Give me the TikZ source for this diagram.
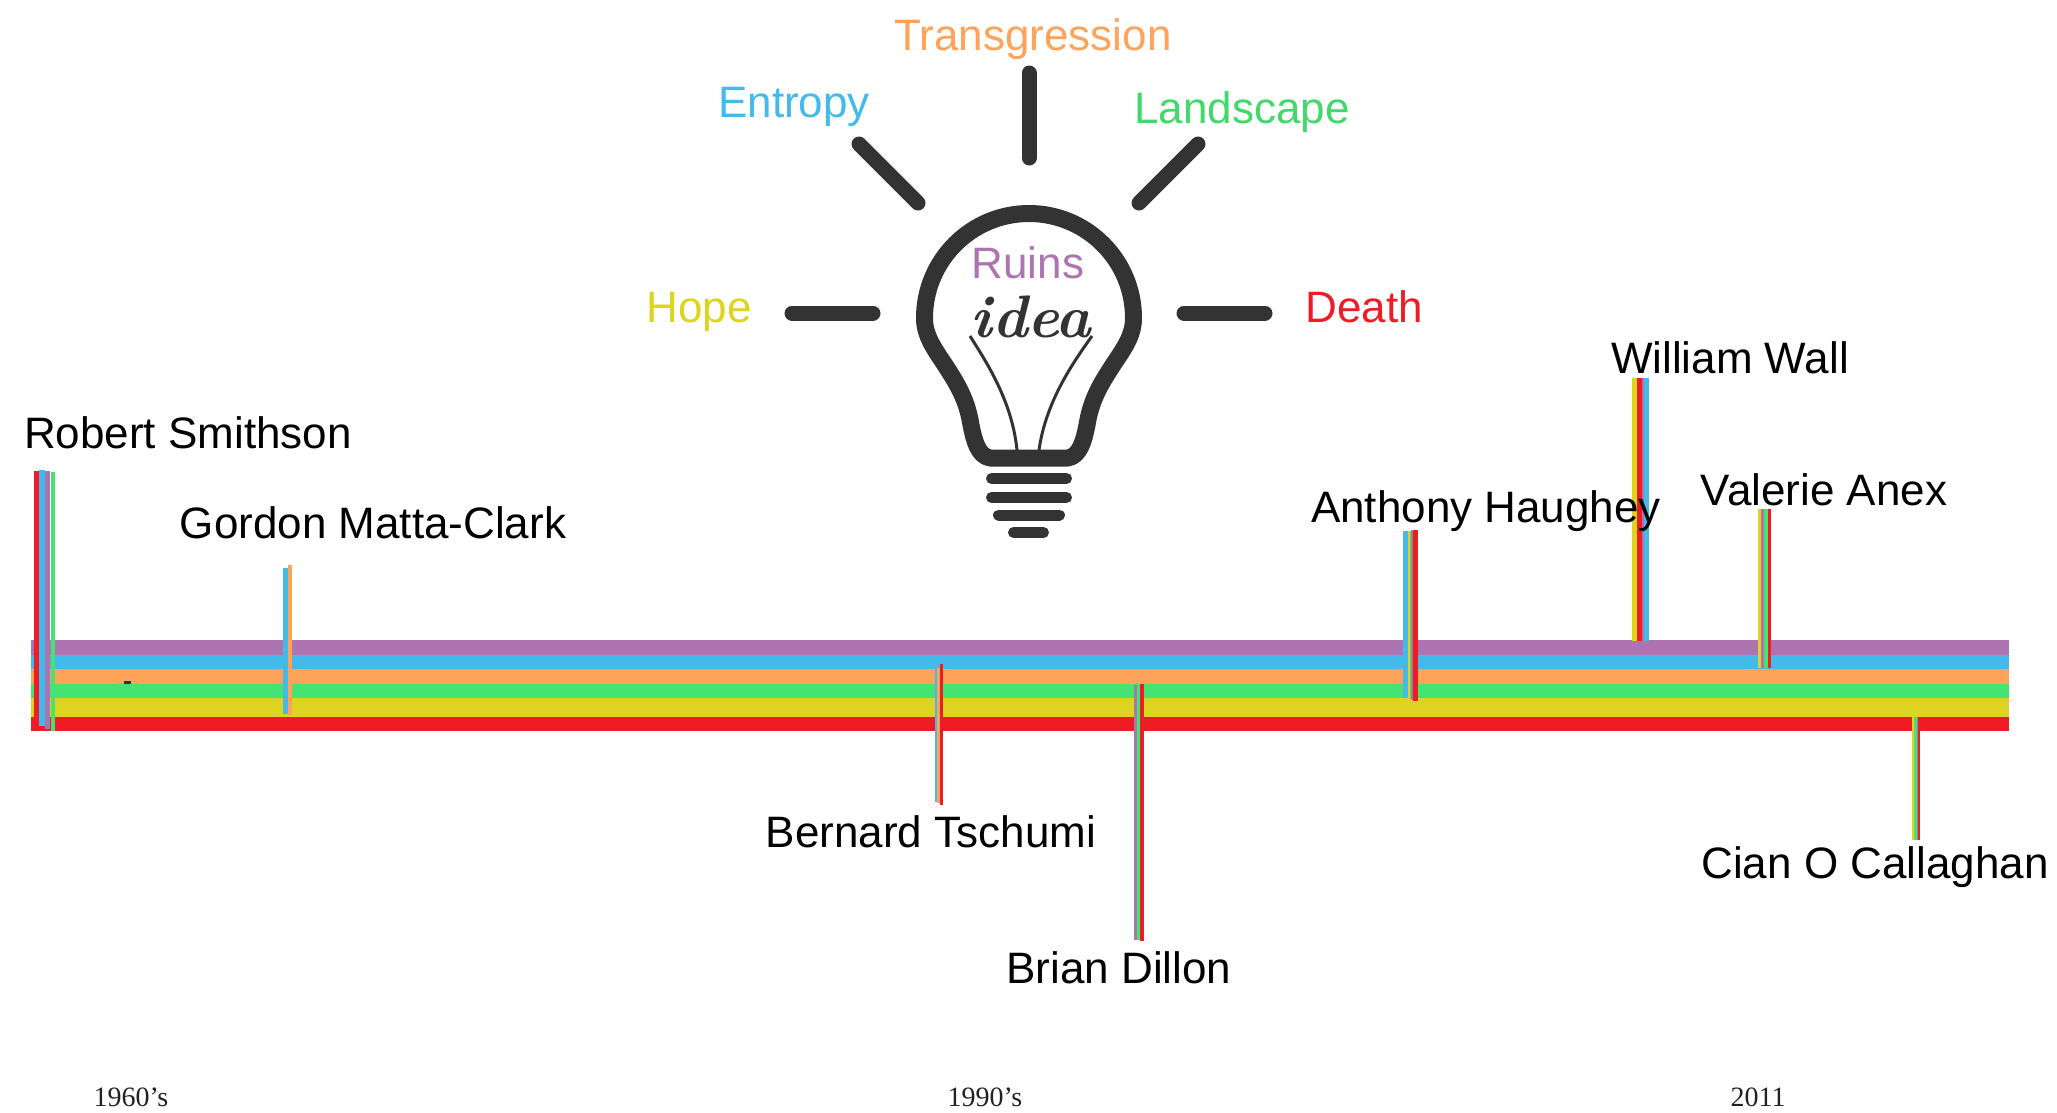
\documentclass[tikz,border=0pt]{standalone}
\usepackage{fontspec}
\setmainfont{Liberation Sans}
\newfontfamily\yearfont{Liberation Serif}
\newfontfamily\ideafont{Latin Modern Roman}

\definecolor{cpurple}{HTML}{AD74B0}
\definecolor{cblue}{HTML}{43BAEA}
\definecolor{corange}{HTML}{FFA35A}
\definecolor{cgreen}{HTML}{45E371}
\definecolor{cyellow}{HTML}{DDD421}
\definecolor{cred}{HTML}{EE1C25}
\definecolor{bulbgray}{HTML}{333333}
\definecolor{yeargray}{HTML}{222222}

% one coloured strip of a marker: colour, x from, x to, y from, y to
\newcommand{\tlstripe}[5]{\fill[#1] (#2,#4) rectangle (#3,#5);}

\begin{document}
\begin{tikzpicture}[x=1pt,y=-1pt,
  word/.style={anchor=base, inner sep=0pt, font=\fontsize{44}{50}\selectfont},
  person/.style={word, text=black},
  yearlabel/.style={anchor=base, inner sep=0pt, text=yeargray, font=\yearfont\fontsize{28}{32}\selectfont},
  ray/.style={draw=bulbgray, line width=15pt, line cap=round},
  basebar/.style={draw=bulbgray, line width=11pt, line cap=round},
  filament/.style={draw=bulbgray, line width=3pt}]

\useasboundingbox (0,0) rectangle (2057,1112);
\fill[white] (0,0) rectangle (2057,1112);

% ---------- light bulb ----------
\draw[bulbgray, line width=17pt, line join=round]
  (990,458) -- (1068,458)
  .. controls (1080,456) and (1084,440) .. (1087,425)
  .. controls (1091,400) and (1100,385) .. (1113,365)
  .. controls (1125,347) and (1133.5,335) .. (1133.5,318)
  .. controls (1133.5,260.3) and (1086.7,213.5) .. (1029,213.5)
  .. controls (971.3,213.5) and (924.5,260.3) .. (924.5,318)
  .. controls (924.5,335) and (933,347) .. (945,365)
  .. controls (958,385) and (967,400) .. (971,425)
  .. controls (974,440) and (978,456) .. (990,458) -- cycle;

\node[anchor=base, inner sep=0pt, text=bulbgray, font=\ideafont\bfseries\itshape\fontsize{60}{60}\selectfont]
  (idea) at (1031,337) {idea};
\coordinate (filL) at (970,336);
\coordinate (filR) at (1092,336);
\coordinate (baseL) at (1017,450);
\coordinate (baseR) at (1039,450);
\draw[filament] (filL) .. controls (985,360) and (1012,400) .. (baseL);
\draw[filament] (filR) .. controls (1075,360) and (1046,400) .. (baseR);

\draw[basebar] (991.5,478.5) -- (1066.5,478.5);
\draw[basebar] (991.5,497.5) -- (1066.5,497.5);
\draw[basebar] (998.5,515) -- (1059.5,515);
\draw[basebar] (1013.5,532.5) -- (1043.5,532.5);

% rays
\draw[ray] (1029,73) -- (1029,158);
\draw[ray] (859,144) -- (918,203);
\draw[ray] (1198,144) -- (1139,203);
\draw[ray] (792,313) -- (873,313);
\draw[ray] (1184,313) -- (1265,313);

% theme words
\node[word, text=corange] (transgression) at (1033,50) {Transgression};
\node[word, text=cblue] (entropy) at (794,117) {Entropy};
\node[word, text=cgreen!95!black] (landscape) at (1242,123) {Landscape};
\node[word, text=cyellow] (hope) at (699,322) {Hope};
\node[word, text=cred] (death) at (1364,322) {Death};
\node[word, text=cpurple] (ruins) at (1028,278) {Ruins};

% ---------- timeline bands ----------
\fill[cpurple] (31,640) rectangle (2009,655);
\fill[cblue]   (31,655) rectangle (2009,669);
\fill[corange] (31,669) rectangle (2009,684);
\fill[cgreen]  (31,684) rectangle (2009,698);
\fill[cyellow] (31,698) rectangle (2009,717);
\fill[cred]    (31,717) rectangle (2009,731);
\fill[bulbgray] (124,681) rectangle (131,684);

% ---------- markers ----------
% Robert Smithson
\tlstripe{cred}{34.3}{39}{471}{731}
\tlstripe{cblue}{39}{45}{470}{726}
\tlstripe{cpurple}{45}{50}{471}{729}
\tlstripe{cgreen}{50.7}{55}{472}{731}
% Gordon Matta-Clark
\tlstripe{cblue}{283.3}{287.7}{568}{714}
\tlstripe{corange}{287.7}{292.3}{565}{715}
% Bernard Tschumi
\tlstripe{cblue}{935}{937.3}{668}{802}
\tlstripe{corange}{937.3}{939.7}{668}{803}
\tlstripe{cred}{939.7}{943.3}{664}{805}
% Brian Dillon
\tlstripe{cpurple}{1134.3}{1137.3}{685}{940}
\tlstripe{cgreen}{1137.3}{1140}{685}{940}
\tlstripe{cred}{1140}{1144.3}{684}{941}
% Anthony Haughey
\tlstripe{cblue}{1403.3}{1408.3}{531}{698}
\tlstripe{cyellow}{1408.3}{1409.8}{531}{699}
\tlstripe{cgreen}{1409.8}{1411}{531}{699}
\tlstripe{cpurple}{1411}{1413.3}{530}{700}
\tlstripe{cred}{1413.3}{1418.3}{530}{701}
% William Wall
\tlstripe{cyellow}{1632.3}{1636.7}{378}{641}
\tlstripe{cred}{1636.7}{1641.7}{378}{641}
\tlstripe{cpurple}{1641.7}{1644.3}{378}{641}
\tlstripe{cblue}{1644.3}{1649.3}{378}{641}
% Valerie Anex
\tlstripe{cyellow}{1758.3}{1761}{509}{668}
\tlstripe{cpurple}{1761}{1763.5}{509}{668}
\tlstripe{cgreen}{1763.5}{1767.5}{509}{668}
\tlstripe{cred}{1767.5}{1770.7}{509}{668}
% Cian O Callaghan
\tlstripe{cyellow}{1911.7}{1914}{717}{840}
\tlstripe{cgreen}{1914}{1916.7}{717}{840}
\tlstripe{cpurple}{1916.7}{1918}{717}{840}
\tlstripe{cred}{1918}{1920}{717}{840}

% ---------- names ----------
\node[person] (smithson) at (188,448) {Robert Smithson};
\node[person] (mattaclark) at (373,538) {Gordon Matta-Clark};
\node[person] (tschumi) at (931,847) {Bernard Tschumi};
\node[person] (dillon) at (1119,983) {Brian Dillon};
\node[person] (haughey) at (1486,522) {Anthony Haughey};
\node[person] (wall) at (1730,373) {William Wall};
\node[person] (anex) at (1824,505) {Valerie Anex};
\node[person] (callaghan) at (1875,878) {Cian O Callaghan};

% ---------- decades ----------
\node[yearlabel] (y1960) at (131,1106) {1960’s};
\node[yearlabel] (y1990) at (985,1106) {1990’s};
\node[yearlabel] (y2011) at (1758,1106) {2011};
\end{tikzpicture}
\end{document}
